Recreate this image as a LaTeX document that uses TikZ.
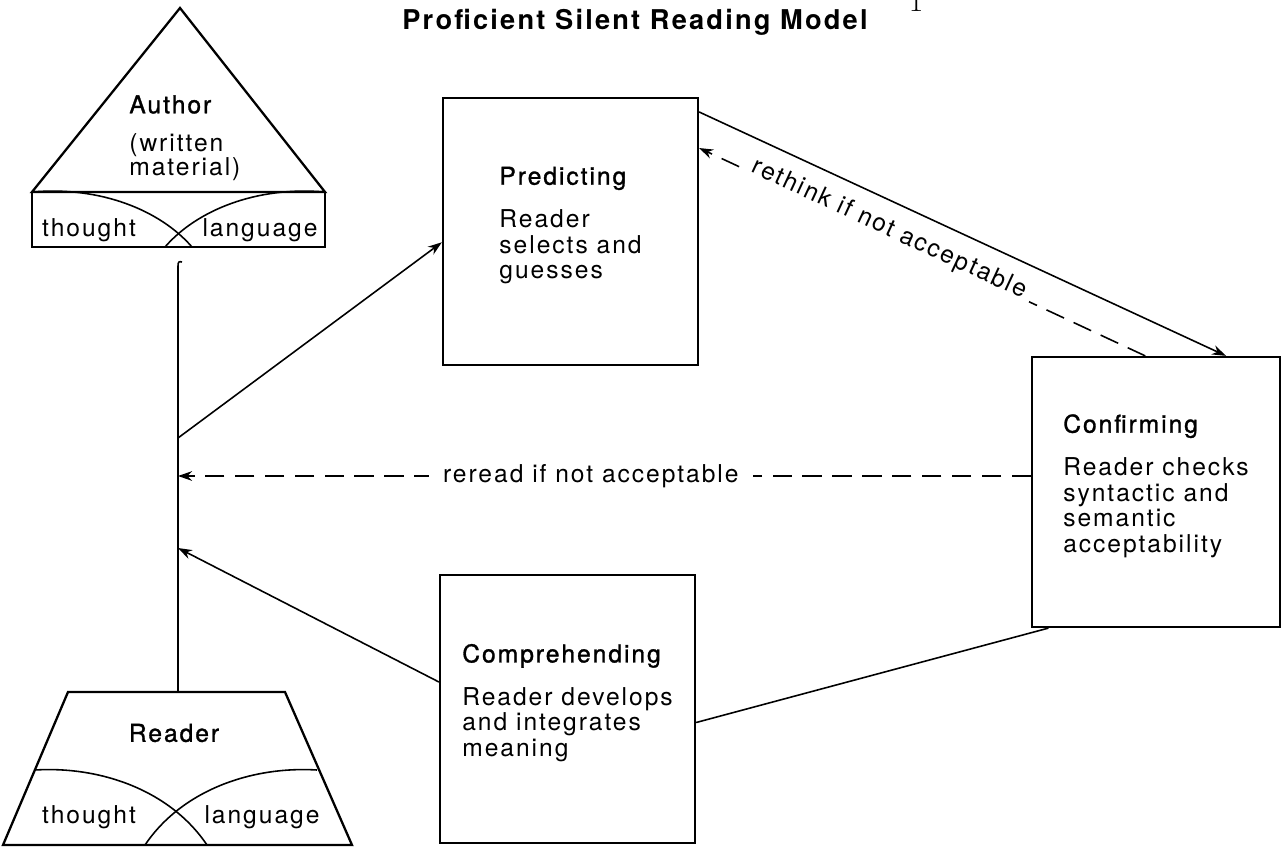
\documentclass[tikz,border=0pt]{standalone}
\usepackage{fontspec}
\newfontfamily\diag[LetterSpace=8]{TeX Gyre Heros}
\newfontfamily\diaghead[LetterSpace=8,FakeBold=1.2]{TeX Gyre Heros}
\usetikzlibrary{arrows.meta,calc}

\begin{document}
\begin{tikzpicture}[x=0.02cm,y=-0.02cm,
  every node/.style={font=\fontsize{14}{14.5}\diag},
  stage/.style={draw,line width=1.3pt,align=left,inner sep=0pt,text depth=10pt},
  wire/.style={line width=0.9pt},
  arr/.style={wire,-{Stealth[length=8pt,width=5.5pt]}},
  dsh/.style={dash pattern=on 11pt off 6pt}]
\useasboundingbox (0,0) rectangle (1287,848);

\node (title) at (635,22) {\fontsize{15.5}{18}\diag\bfseries Proficient Silent Reading Model};
\node[anchor=base,font=\fontsize{18}{20}\rmfamily] (pageno) at (916,12) {1};

% author
\draw[line width=1.3pt] (32,192) -- (180,8) -- (325,192) -- cycle;
\draw[line width=1.3pt] (32,192) rectangle (325,247);
\draw[wire] (32,192) .. controls (100,186) and (160,210) .. (192,247);
\draw[wire] (325,192) .. controls (257,186) and (197,210) .. (165,247);
\node[anchor=north west,inner sep=0pt,align=left,font=\fontsize{14}{13}\diag] (author) at (129,95)
  {{\diaghead Author}\\[8.5pt](written\\material)};
\node (authThought) at (89,230) {thought};
\node (authLang) at (260,230) {language};

% reader
\draw[line width=1.3pt] (68,692) -- (285,692) -- (352,845) -- (3,845) -- cycle;
\draw[wire] (35,770) .. controls (100,766) and (170,790) .. (207,845);
\draw[wire] (317,770) .. controls (252,766) and (182,790) .. (145,845);
\node (reader) at (174,733) {\diaghead Reader};
\node (readThought) at (89,817) {thought};
\node (readLang) at (262,817) {language};

\coordinate (spineTop) at (178,266);
\coordinate (readerTop) at (178,692);
\coordinate (spineA) at (178,438);
\coordinate (spineB) at (178,476);
\coordinate (spineC) at (178,548);
\draw[wire] (readerTop) -- (spineTop) .. controls (178,262) and (179,261) .. (182,262);

\node[stage,minimum width=5.1cm,minimum height=5.34cm] (predict) at (570.5,231.5)
  {{\diaghead Predicting}\\[10pt]Reader\\selects and\\guesses};
\node[stage,minimum width=4.96cm,minimum height=5.4cm] (confirm) at (1156,492)
  {{\diaghead Confirming}\\[10pt]Reader checks\\syntactic and\\semantic\\acceptability};
\node[stage,minimum width=5.1cm,minimum height=5.36cm] (comp) at (567.5,709)
  {{\diaghead Comprehending}\\[10pt]Reader develops\\and integrates\\meaning};

\draw[arr] (spineA) -- ($(predict.north west)!0.54!(predict.south west)$);
\draw[arr,dsh] ($(confirm.north west)!0.457!(confirm.north east)$)
  -- node[sloped,pos=0.58,anchor=base,fill=white,inner xsep=4pt] (rethink) {rethink if not acceptable}
  ($(predict.north east)!0.19!(predict.south east)$);
\draw[arr] ($(predict.north east)!0.056!(predict.south east)$) -- ($(confirm.north west)!0.78!(confirm.north east)$);
\draw[arr,dsh] (confirm.west |- spineB) -- node[pos=0.516,fill=white,inner xsep=8pt] (reread) {reread if not acceptable} (spineB);
\draw[arr] ($(comp.north west)!0.40!(comp.south west)$) -- (spineC);
\draw[wire] ($(comp.north east)!0.55!(comp.south east)$) -- ($(confirm.south west)!0.07!(confirm.south east)$);
\end{tikzpicture}
\end{document}
